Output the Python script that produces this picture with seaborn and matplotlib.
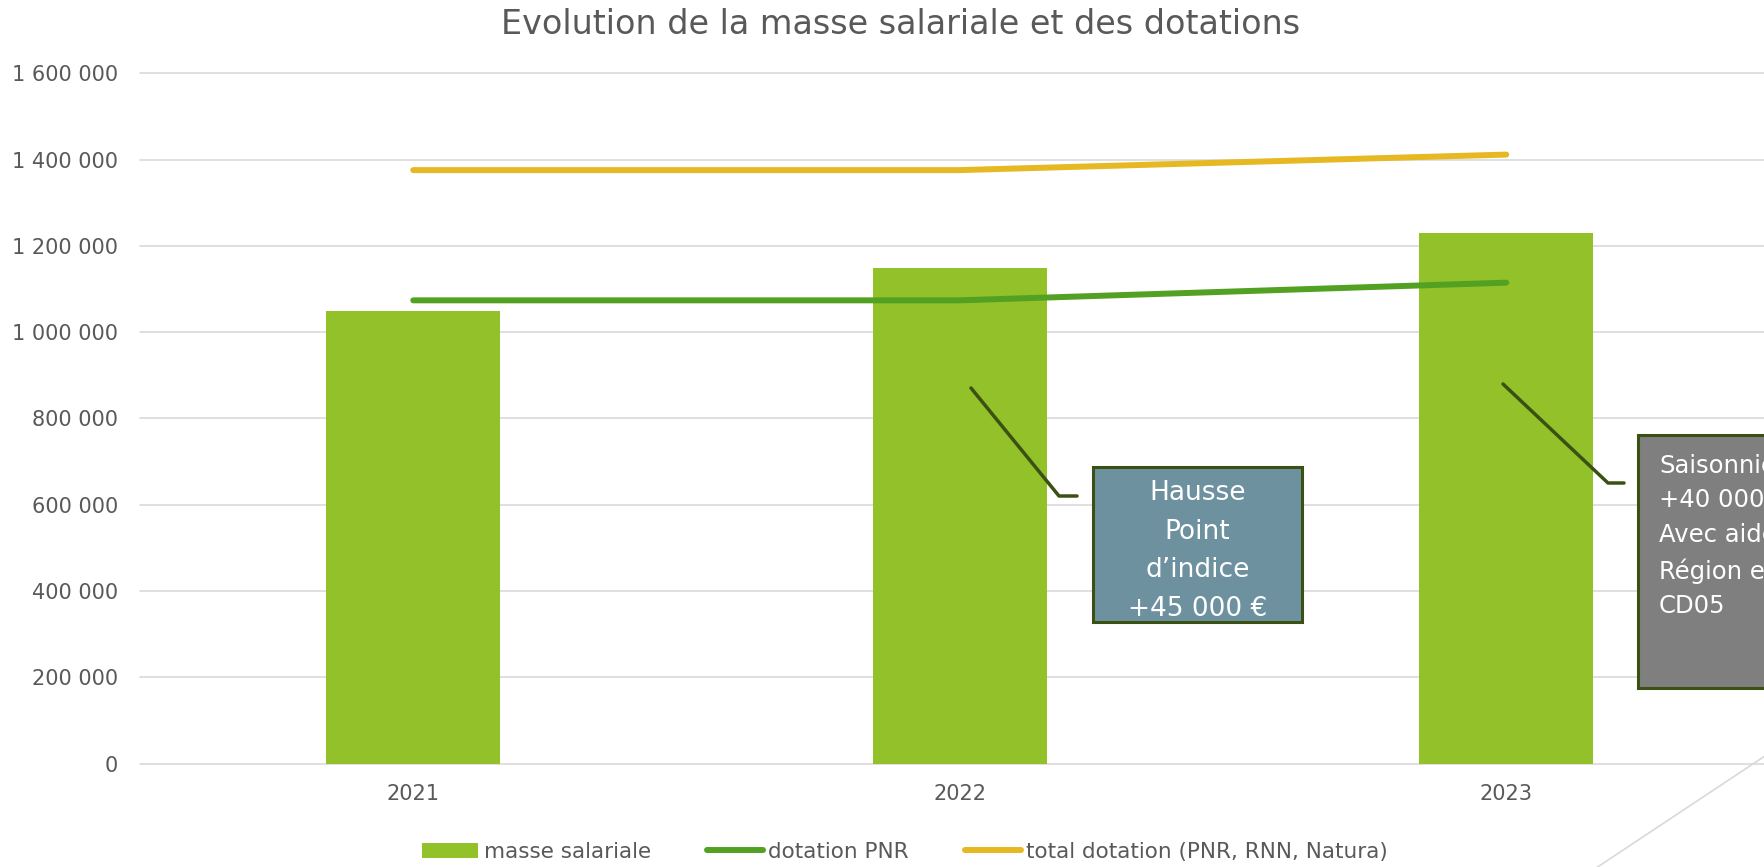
import pandas as pd
import matplotlib.pyplot as plt
import seaborn as sns
from matplotlib.lines import Line2D
from matplotlib.patches import Rectangle
from matplotlib.ticker import FuncFormatter

# Data
years = ["2021", "2022", "2023"]
masse_salariale = [1050000, 1150000, 1230000]
dotation_pnr = [1074000, 1074000, 1115000]
total_dotation = [1376000, 1376000, 1412000]
y_ticks = [0, 200000, 400000, 600000, 800000, 1000000, 1200000, 1400000, 1600000]

W, H, DPI = 1765, 867, 100
txt = '#595959'
dark = '#3B5114'


def px(x, y):
    # pixel position (from top-left) -> figure fraction
    return x / W, 1 - y / H


sns.set_style("white")
plt.rcParams['font.family'] = ['DejaVu Sans']

df = pd.DataFrame({"annee": years, "masse": masse_salariale,
                   "pnr": dotation_pnr, "total": total_dotation})

fig = plt.figure(figsize=(W / DPI, H / DPI), dpi=DPI)
ax = fig.add_axes([140 / W, 1 - 763.5 / H, 3 * 546.5 / W, 690 / H])

sns.barplot(data=df, x="annee", y="masse", color="#92C12A", saturation=1,
            width=0.318, linewidth=0, errorbar=None, ax=ax,
            label="masse salariale", zorder=2)
sns.lineplot(data=df, x="annee", y="pnr", color="#52A123", lw=4.3,
             errorbar=None, ax=ax, label="dotation PNR", zorder=3,
             solid_capstyle='round')
sns.lineplot(data=df, x="annee", y="total", color="#E6B821", lw=4.3,
             errorbar=None, ax=ax, label="total dotation (PNR, RNN, Natura)",
             zorder=3, solid_capstyle='round')

ax.set_xlim(-0.5, 2.5)
ax.set_ylim(0, 1600000)
ax.set_yticks(y_ticks)
ax.yaxis.set_major_formatter(FuncFormatter(lambda v, p: f"{v:,.0f}".replace(",", " ")))
ax.yaxis.grid(True, color='#d9d9d9', lw=1.2)
for gl in ax.get_ygridlines():
    gl.set_clip_on(False)
ax.set_axisbelow(True)
for s in ax.spines.values():
    s.set_visible(False)
ax.set_xlabel('')
ax.set_ylabel('')
ax.tick_params(axis='both', length=0, labelsize=15, colors=txt)
ax.tick_params(axis='y', pad=16)
ax.tick_params(axis='x', pad=15)

# Title
fig.text(*px(901, 25), "Evolution de la masse salariale et des dotations",
         ha='center', va='center', fontsize=24, color=txt)

# Legend at the bottom: bar first, then the two lines
handles, labels = ax.get_legend_handles_labels()
if ax.get_legend() is not None:
    ax.get_legend().remove()
order = [labels.index("masse salariale"), labels.index("dotation PNR"),
         labels.index("total dotation (PNR, RNN, Natura)")]
fig.legend([handles[i] for i in order], [labels[i] for i in order],
           loc='center', bbox_to_anchor=px(905, 852), ncol=3,
           frameon=False, fontsize=15.5, handlelength=2.6, handletextpad=0.25,
           columnspacing=2.6, labelcolor=txt)

# Callout 1
fig.add_artist(Rectangle(px(1093, 622), 209 / W, 155 / H, transform=fig.transFigure,
                         facecolor='#6E91A0', edgecolor=dark, lw=2.2))
fig.text(*px(1197.5, 551), "Hausse\nPoint\nd’indice\n+45 000 €", ha='center',
         va='center', multialignment='center', color='white', fontsize=19,
         linespacing=1.62)
fig.add_artist(Line2D([971 / W, 1059 / W, 1077 / W], [1 - 388 / H, 1 - 496 / H, 1 - 496 / H],
                      transform=fig.transFigure, color=dark, lw=2.5,
                      solid_capstyle='round', solid_joinstyle='round'))

# Callout 2 (cut off by the right edge, as in the original)
fig.add_artist(Rectangle(px(1638, 688), 220 / W, 253 / H, transform=fig.transFigure,
                         facecolor='#7F7F7F', edgecolor=dark, lw=2.2))
fig.text(*px(1659, 454), "Saisonniers\n+40 000 €\nAvec aide\nRégion et\nCD05",
         ha='left', va='top', color='white', fontsize=17.5, linespacing=1.55)
fig.add_artist(Line2D([1503 / W, 1608 / W, 1624 / W], [1 - 384 / H, 1 - 483 / H, 1 - 483 / H],
                      transform=fig.transFigure, color=dark, lw=2.5,
                      solid_capstyle='round', solid_joinstyle='round'))

# faint connector at the bottom right
fig.add_artist(Line2D([1780 / W, 1590 / W], [1 - 746 / H, 1 - 872 / H],
                      transform=fig.transFigure, color='#d9d9d9', lw=1.2))

fig.savefig("out.png", dpi=DPI)
